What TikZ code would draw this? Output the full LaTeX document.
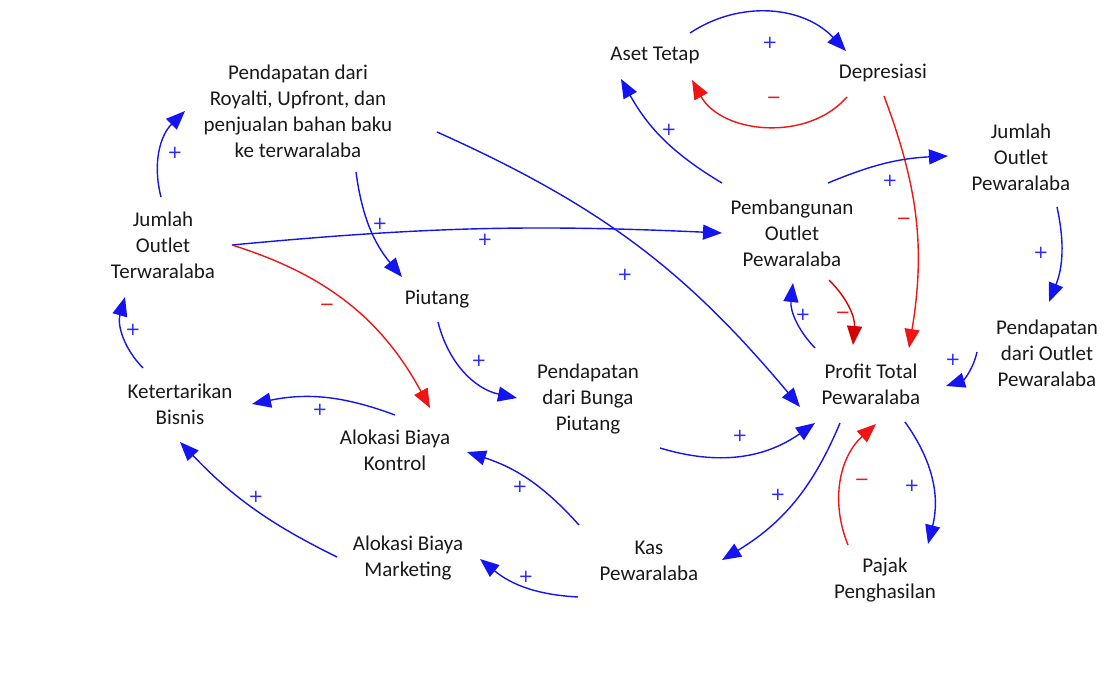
\documentclass[tikz,border=0pt]{standalone}
\usepackage{fontspec}
\setmainfont{Carlito}
\newfontfamily\signfont{DejaVu Sans}
\usetikzlibrary{arrows.meta}
\definecolor{cblue}{RGB}{20,20,240}
\definecolor{cred}{RGB}{240,20,20}
\definecolor{dred}{RGB}{215,0,0}
\definecolor{lblue}{RGB}{40,40,255}
\tikzset{
  var/.style={align=center,font=\fontsize{21}{26}\selectfont,text=black!90,inner sep=0pt},
  pos link/.style={draw=cblue,line width=1.4pt,-{Triangle[length=19pt,width=15pt]}},
  neg link/.style={draw=cred,line width=1.4pt,-{Triangle[length=19pt,width=15pt]}},
  plus/.style={text=lblue,font=\signfont\fontsize{18}{18}\selectfont,inner sep=0pt},
  minus/.style={text=cred,font=\signfont\fontsize{18}{18}\selectfont,inner sep=0pt},
}
\begin{document}
\begin{tikzpicture}[x=1pt,y=-1pt]
\useasboundingbox (0,0) rectangle (1104,681);
% variables
\node[var] (aset) at (655,55) {Aset Tetap};
\node[var] (dep) at (883,73) {Depresiasi};
\node[var] (roy) at (298,111) {Pendapatan dari\\Royalti, Upfront, dan\\penjualan bahan baku\\ke terwaralaba};
\node[var] (jop) at (1021,157) {Jumlah\\Outlet\\Pewaralaba};
\node[var] (jot) at (163,245) {Jumlah\\Outlet\\Terwaralaba};
\node[var] (pemb) at (792,233) {Pembangunan\\Outlet\\Pewaralaba};
\node[var] (piu) at (437,299) {Piutang};
\node[var] (bunga) at (588,399) {Pendapatan\\dari Bunga\\Piutang};
\node[var] (pdo) at (1047,353) {Pendapatan\\dari Outlet\\Pewaralaba};
\node[var] (profit) at (871,384) {Profit Total\\Pewaralaba};
\node[var] (ket) at (180,404) {Ketertarikan\\Bisnis};
\node[var] (kontrol) at (395,450) {Alokasi Biaya\\Kontrol};
\node[var] (mkt) at (408,558) {Alokasi Biaya\\Marketing};
\node[var] (kas) at (649,561) {Kas\\Pewaralaba};
\node[var] (pajak) at (885,580) {Pajak\\Penghasilan};
% links
\draw[pos link] ([shift={(35,-22)}]aset.center) to[bend left=40] ([shift={(-37,-22)}]dep.center);
\draw[neg link] ([shift={(-36,24)}]dep.center) to[bend left=55] ([shift={(37,25)}]aset.center);
\draw[pos link] ([shift={(-70,-50)}]pemb.center) to[bend left=15] ([shift={(-34,24)}]aset.center);
\draw[neg link] ([shift={(1,23)}]dep.center) to[bend left=15] ([shift={(38,-36)}]profit.center);
\draw[pos link] ([shift={(36,-50)}]pemb.center) to[bend left=10] ([shift={(-73,-1)}]jop.center);
\draw[pos link] ([shift={(36,50)}]jop.center) to[bend left=17] ([shift={(2,-51)}]pdo.center);
\draw[pos link] ([shift={(-70,-1)}]pdo.center) to[bend left=30] ([shift={(75,2)}]profit.center);
\draw[neg link,draw=dred] ([shift={(37,47)}]pemb.center) to[bend left=25] ([shift={(-18,-39)}]profit.center);
\draw[pos link] ([shift={(-56,-36)}]profit.center) to[bend left=25] ([shift={(1,50)}]pemb.center);
\draw[pos link] ([shift={(69,0)}]jot.center) to[bend left=4] ([shift={(-70,0)}]pemb.center);
\draw[pos link] ([shift={(-2,-48)}]jot.center) to[bend left=30] ([shift={(-113,0)}]roy.center);
\draw[neg link] ([shift={(69,0)}]jot.center) to[bend left=22] ([shift={(35,-42)}]kontrol.center);
\draw[pos link] ([shift={(58,61)}]roy.center) to[bend right=16] ([shift={(-35,-22)}]piu.center);
\draw[pos link] ([shift={(139,21)}]roy.center) to[bend left=13] ([shift={(-71,23)}]profit.center);
\draw[pos link] ([shift={(1,23)}]piu.center) to[bend right=32] ([shift={(-71,-1)}]bunga.center);
\draw[pos link] ([shift={(72,49)}]bunga.center) to[bend right=26] ([shift={(-56,39)}]profit.center);
\draw[pos link] ([shift={(-31,39)}]profit.center) to[bend left=18] ([shift={(73,-1)}]kas.center);
\draw[pos link] ([shift={(34,38)}]profit.center) to[bend left=25] ([shift={(43,-36)}]pajak.center);
\draw[neg link] ([shift={(-37,-35)}]pajak.center) to[bend left=35] ([shift={(5,40)}]profit.center);
\draw[pos link] ([shift={(-71,36)}]kas.center) to[bend left=18] ([shift={(72,1)}]mkt.center);
\draw[pos link] ([shift={(-70,-36)}]kas.center) to[bend right=15] ([shift={(72,2)}]kontrol.center);
\draw[pos link] ([shift={(0,-35)}]kontrol.center) to[bend right=16] ([shift={(72,0)}]ket.center);
\draw[pos link] ([shift={(-71,-1)}]mkt.center) to[bend left=10] ([shift={(0,38)}]ket.center);
\draw[pos link] ([shift={(-37,-36)}]ket.center) to[bend left=30] ([shift={(-38,52)}]jot.center);
% polarity labels
\node[plus] (l1) at (770,43) {+};
\node[minus] (l2) at (774,100) {−};
\node[plus] (l3) at (669,130) {+};
\node[minus] (l4) at (904,221) {−};
\node[plus] (l5) at (890,181) {+};
\node[plus] (l6) at (1041,253) {+};
\node[plus] (l7) at (953,360) {+};
\node[minus] (l8) at (843,315) {−};
\node[plus] (l9) at (803,315) {+};
\node[plus] (l10) at (485,240) {+};
\node[plus] (l11) at (175,153) {+};
\node[minus] (l12) at (327,307) {−};
\node[plus] (l13) at (380,224) {+};
\node[plus] (l14) at (625,275) {+};
\node[plus] (l15) at (479,361) {+};
\node[plus] (l16) at (740,436) {+};
\node[plus] (l17) at (778,495) {+};
\node[plus] (l18) at (912,486) {+};
\node[minus] (l19) at (862,482) {−};
\node[plus] (l20) at (526,577) {+};
\node[plus] (l21) at (520,487) {+};
\node[plus] (l22) at (320,410) {+};
\node[plus] (l23) at (256,497) {+};
\node[plus] (l24) at (133,330) {+};
\end{tikzpicture}
\end{document}
